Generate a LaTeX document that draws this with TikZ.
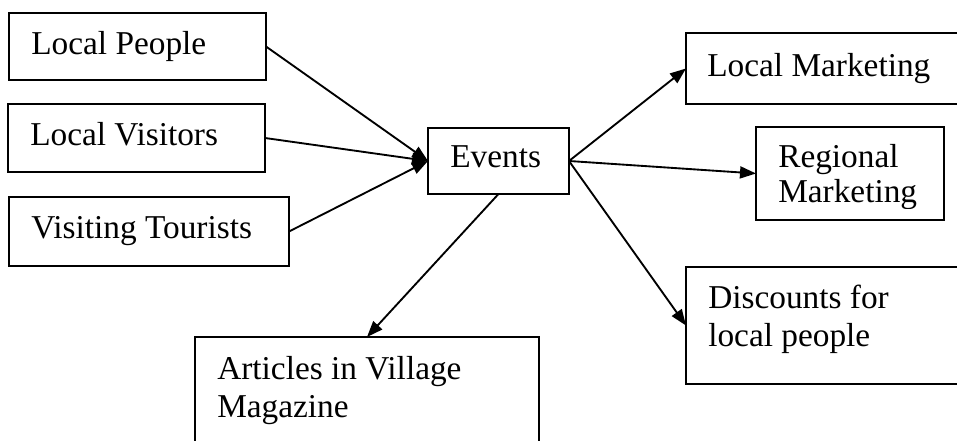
\documentclass[tikz,border=0pt]{standalone}
\usepackage{fontspec}
\setmainfont{Liberation Serif}
\usetikzlibrary{arrows.meta}
\begin{document}
\begin{tikzpicture}[x=0.75pt,y=-0.75pt,
  box/.style 2 args={draw, line width=1.5pt, minimum width=#1*0.75pt,
    minimum height=#2*0.75pt, inner sep=0pt, outer sep=0pt},
  txt/.style={anchor=base west, inner sep=0pt, align=left,
    font=\fontsize{25}{28.8}\selectfont},
  link/.style={line width=1.4pt, -{Triangle[length=12pt,width=9pt]}}]
\useasboundingbox (0,0) rectangle (957,441);
\clip (0,0) rectangle (957,441);

% boxes
\node[box={257}{67}]  (lp) at (137.5,46.5) {};
\node[box={257}{68}]  (lv) at (136.5,138) {};
\node[box={280}{69}]  (vt) at (149,231.5) {};
\node[box={141}{66}]  (ev) at (498.5,161) {};
\node[box={294}{71}]  (lm) at (833,68.5) {};
\node[box={188}{93}]  (rm) at (850,173.5) {};
\node[box={294}{117}] (dl) at (833,325.5) {};
\node[box={344}{133}] (ar) at (367,403.5) {};

% labels (multi-line labels sit on the baseline of their last line)
\node[txt] (tlp) at (31,55) {Local People};
\node[txt] (tlv) at (30,146) {Local Visitors};
\node[txt] (tvt) at (31,239) {Visiting Tourists};
\node[txt] (tev) at (450,168) {Events};
\node[txt] (tlm) at (707,77) {Local Marketing};
\begin{scope}
  \clip (756,127) rectangle (944,209);
  \node[txt, font=\fontsize{25}{26.3}\selectfont] (trm) at (778,203) {Regional\\Marketing};
\end{scope}
\node[txt] (tdl) at (708,347) {Discounts for\\local people};
\node[txt] (tar) at (217,418) {Articles in Village\\Magazine};

% connectors
\draw[link] (lp.east) -- (ev.west);
\draw[link] (lv.east) -- (ev.west);
\draw[link] (vt.east) -- (ev.west);
\draw[link] (ev.east) -- (lm.west);
\draw[link] (ev.east) -- (rm.west);
\draw[link] (ev.east) -- (dl.west);
\draw[link] (ev.south) -- (ar.north);
\end{tikzpicture}
\end{document}
